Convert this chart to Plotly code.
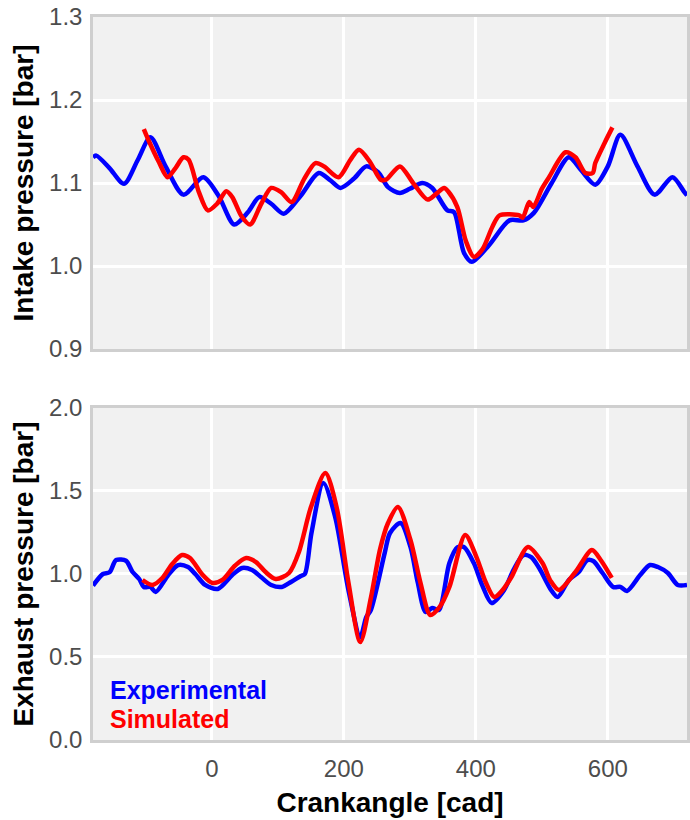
import plotly.graph_objects as go
from plotly.subplots import make_subplots

# Intake pressure, experimental
intake_exp_cad = [-180, -175, -155, -133, -112, -93, -70, -43, -13, 10, 34, 55, 72, 90, 109, 135,
                  162, 180, 195, 215, 234, 252, 267, 285, 300, 319, 334, 357, 367, 382, 394, 420,
                  451, 472, 488, 515, 541, 560, 581, 600, 619, 645, 671, 698, 716, 720]
intake_exp_bar = [1.131, 1.133, 1.118, 1.099, 1.128, 1.155, 1.12, 1.086, 1.107, 1.085, 1.05, 1.065,
                  1.083, 1.075, 1.063, 1.085, 1.112, 1.103, 1.094, 1.105, 1.12, 1.113, 1.095, 1.088,
                  1.093, 1.1, 1.094, 1.067, 1.065, 1.016, 1.005, 1.025, 1.055, 1.055, 1.064, 1.1,
                  1.131, 1.115, 1.098, 1.12, 1.158, 1.12, 1.086, 1.107, 1.089, 1.085]

# Intake pressure, simulated
intake_sim_cad = [-103, -95, -80, -67, -55, -43, -35, -20, -6, 8, 22, 31, 45, 58, 75, 90, 105, 121,
                  140, 157, 170, 192, 210, 223, 240, 256, 264, 285, 305, 327, 340, 352, 358, 372,
                  385, 397, 410, 425, 436, 466, 471, 481, 487, 500, 511, 536, 551, 566, 577, 581,
                  595, 607]
intake_sim_bar = [1.165, 1.15, 1.125, 1.107, 1.118, 1.131, 1.128, 1.09, 1.067, 1.075, 1.09, 1.083,
                  1.06, 1.05, 1.075, 1.094, 1.089, 1.077, 1.105, 1.124, 1.12, 1.107, 1.128, 1.14,
                  1.125, 1.104, 1.104, 1.12, 1.1, 1.08, 1.087, 1.094, 1.09, 1.071, 1.03, 1.011,
                  1.02, 1.047, 1.061, 1.061, 1.058, 1.077, 1.071, 1.093, 1.107, 1.137, 1.131,
                  1.112, 1.112, 1.124, 1.148, 1.167]

# Exhaust pressure, experimental
exhaust_exp_cad = [-180, -165, -155, -145, -130, -120, -110, -103, -93, -85, -66, -51, -36, -25, -10,
                   9, 31, 46, 61, 75, 90, 106, 120, 135, 141, 151, 169, 187, 207, 225, 234, 241,
                   262, 270, 286, 301, 312, 324, 334, 344, 360, 372, 382, 397, 410, 424, 443, 457,
                   472, 484, 496, 514, 524, 541, 556, 569, 578, 592, 608, 619, 629, 649, 664, 676,
                   691, 706, 720]
exhaust_exp_bar = [0.93, 1.0, 1.01, 1.084, 1.08, 1.012, 0.97, 0.922, 0.922, 0.892, 0.994, 1.054,
                   1.042, 1.0, 0.934, 0.91, 0.994, 1.036, 1.024, 0.98, 0.934, 0.922, 0.952, 0.988,
                   1.0, 1.247, 1.548, 1.343, 0.904, 0.62, 0.74, 0.783, 1.127, 1.247, 1.307, 1.163,
                   0.95, 0.771, 0.795, 0.783, 1.066, 1.16, 1.163, 1.066, 0.93, 0.825, 0.904, 1.024,
                   1.114, 1.102, 1.036, 0.904, 0.861, 0.964, 1.012, 1.084, 1.078, 1.006, 0.922,
                   0.922, 0.898, 0.994, 1.054, 1.042, 1.006, 0.934, 0.934]

# Exhaust pressure, simulated
exhaust_sim_cad = [-105, -90, -75, -60, -45, -33, -15, 1, 16, 35, 52, 67, 82, 97, 117, 132, 150,
                   172, 189, 207, 225, 241, 255, 267, 282, 301, 316, 331, 345, 360, 384, 401, 415,
                   428, 440, 454, 479, 501, 513, 526, 551, 576, 590, 606]
exhaust_sim_bar = [0.964, 0.934, 0.976, 1.06, 1.114, 1.096, 1.0, 0.946, 0.964, 1.05, 1.096, 1.072,
                   1.01, 0.97, 1.006, 1.133, 1.4, 1.608, 1.404, 0.95, 0.59, 0.855, 1.15, 1.307,
                   1.404, 1.205, 0.95, 0.753, 0.8, 0.922, 1.235, 1.102, 0.95, 0.861, 0.9, 0.982,
                   1.163, 1.066, 0.96, 0.904, 1.012, 1.145, 1.08, 0.976]

x_ticks = [0, 200, 400, 600]
intake_ticks = [0.9, 1.0, 1.1, 1.2, 1.3]
exhaust_ticks = [0.0, 0.5, 1.0, 1.5, 2.0]

BLUE = "#0000ff"
RED = "#ff0000"
FONT = "Liberation Sans"

fig = make_subplots(rows=2, cols=1, shared_xaxes=True, vertical_spacing=0.0816)

line_style = dict(width=4.5, shape="spline", smoothing=0.8)
fig.add_trace(go.Scatter(x=intake_exp_cad, y=intake_exp_bar, mode="lines",
                         line=dict(color=BLUE, **line_style), showlegend=False), row=1, col=1)
fig.add_trace(go.Scatter(x=intake_sim_cad, y=intake_sim_bar, mode="lines",
                         line=dict(color=RED, **line_style), showlegend=False), row=1, col=1)
fig.add_trace(go.Scatter(x=exhaust_exp_cad, y=exhaust_exp_bar, mode="lines",
                         line=dict(color=BLUE, **line_style), showlegend=False), row=2, col=1)
fig.add_trace(go.Scatter(x=exhaust_sim_cad, y=exhaust_sim_bar, mode="lines",
                         line=dict(color=RED, **line_style), showlegend=False), row=2, col=1)

axis_common = dict(showline=True, linecolor="#cfcfcf", linewidth=2.5, mirror=True,
                   showgrid=True, gridcolor="white", gridwidth=3, zeroline=False, ticks="",
                   tickfont=dict(family=FONT, size=24, color="#4d4d4d"))

fig.update_xaxes(range=[-180, 720], tickvals=x_ticks, ticklabelstandoff=5, **axis_common)
fig.update_xaxes(showticklabels=False, row=1, col=1)
fig.update_xaxes(title=dict(text="<b>Crankangle [cad]</b>", font=dict(family=FONT, size=28, color="black"),
                            standoff=12), row=2, col=1)

fig.update_yaxes(range=[0.9, 1.3], tickvals=intake_ticks, ticktext=[f"{v:.1f}" for v in intake_ticks],
                 ticklabelstandoff=3,
                 title=dict(text="<b>Intake pressure [bar]</b>", font=dict(family=FONT, size=28, color="black"),
                            standoff=8),
                 row=1, col=1, **axis_common)
fig.update_yaxes(range=[0, 2.0], tickvals=exhaust_ticks, ticktext=[f"{v:.1f}" for v in exhaust_ticks],
                 ticklabelstandoff=3,
                 title=dict(text="<b>Exhaust pressure [bar]</b>", font=dict(family=FONT, size=28, color="black"),
                            standoff=8),
                 row=2, col=1, **axis_common)

# Colored series labels inside the lower panel
fig.add_annotation(text="<b>Experimental</b>", xref="x2 domain", yref="y2 domain", x=0.025, y=0.15,
                   xanchor="left", yanchor="middle", showarrow=False,
                   font=dict(family=FONT, size=25, color=BLUE))
fig.add_annotation(text="<b>Simulated</b>", xref="x2 domain", yref="y2 domain", x=0.025, y=0.063,
                   xanchor="left", yanchor="middle", showarrow=False,
                   font=dict(family=FONT, size=25, color=RED))

fig.update_layout(width=690, height=820, margin=dict(l=93, r=0, t=17, b=80),
                  plot_bgcolor="#f1f1f1", paper_bgcolor="white", showlegend=False)

fig.write_html("out.html")
